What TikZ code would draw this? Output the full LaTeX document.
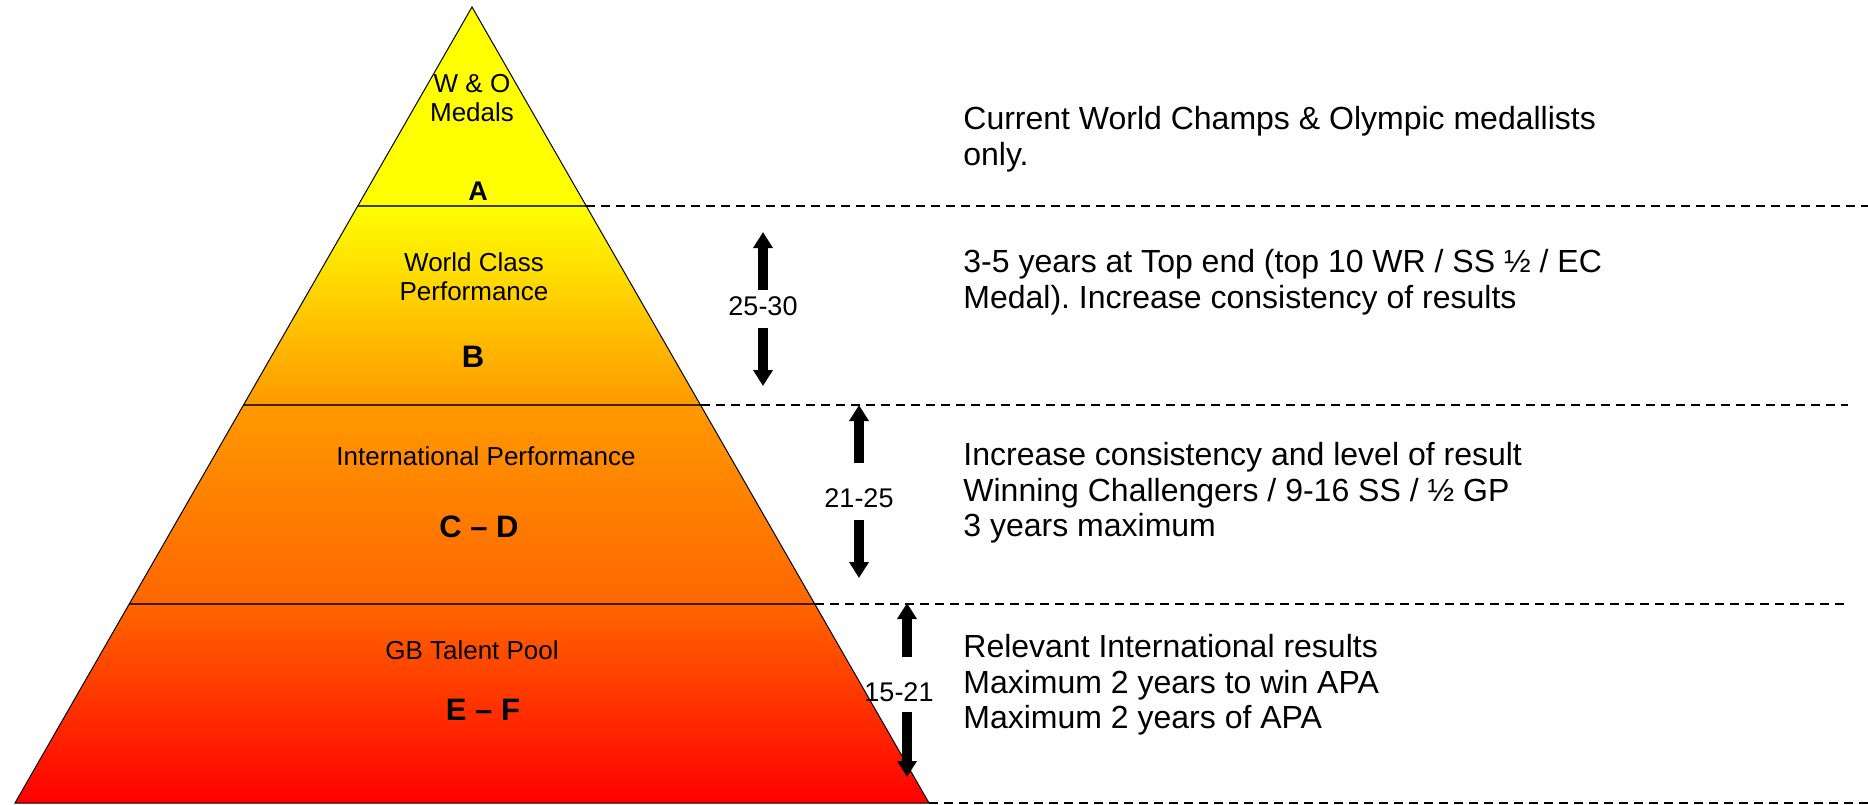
\documentclass[tikz,border=0pt]{standalone}
\usepackage{fontspec}
\setmainfont{Liberation Sans}
\usetikzlibrary{arrows.meta,calc}

\definecolor{lvlA}{RGB}{255,255,0}
\definecolor{lvlB}{RGB}{255,153,0}
\definecolor{lvlC}{RGB}{255,102,0}
\definecolor{lvlD}{RGB}{255,0,0}

\tikzset{
  tier/.style={font=\fontsize{13}{14.5}\selectfont, align=center, inner sep=0pt},
  grade/.style={font=\fontsize{15.5}{17}\selectfont\bfseries, inner sep=0pt},
  age/.style={font=\fontsize{13.5}{15}\selectfont, inner sep=0pt},
  note/.style={font=\fontsize{16}{17.75}\selectfont\frenchspacing, align=left, inner sep=0pt, anchor=north west},
  agearrow/.style={line width=5.2pt, -{Triangle[width=9.4pt,length=8pt]}},
  divider/.style={black, opacity=0.75, line width=1pt},
  guide/.style={dash pattern=on 4.5pt off 3pt, line width=0.75pt},
}

\begin{document}
\begin{tikzpicture}[x=0.5pt,y=-0.5pt]
\useasboundingbox (0,0) rectangle (1868,804);

% pyramid corners and band edges
\coordinate (apex) at (472,7);
\coordinate (bl) at (15,803);
\coordinate (br) at (929,803);
\foreach \n/\t in {1/0.25,2/0.5,3/0.75} {
  \coordinate (l\n) at ($(apex)!\t!(bl)$);
  \coordinate (r\n) at ($(apex)!\t!(br)$);
}

% bands
\fill[lvlA] (apex) -- (l1) -- (r1) -- cycle;
\shade[top color=lvlA, bottom color=lvlB] (l1) -- (l2) -- (r2) -- (r1) -- cycle;
\shade[top color=lvlB, bottom color=lvlC] (l2) -- (l3) -- (r3) -- (r2) -- cycle;
\shade[top color=lvlC, bottom color=lvlD] (l3) -- (bl) -- (br) -- (r3) -- cycle;
\draw[line width=0.5pt] (apex) -- (bl) -- (br) -- cycle;
\foreach \n in {1,2,3}
  \draw[divider] (l\n) -- (r\n);

% dashed guides to the right
\coordinate (g1) at (1868,206);
\coordinate (g2) at (1848,405);
\coordinate (g3) at (1844,604);
\coordinate (g4) at (1868,802);
\draw[guide] (r1) -- (r1 -| g1);
\draw[guide] (r2) -- (r2 -| g2);
\draw[guide] (r3) -- (r3 -| g3);
\draw[guide] (br) -- (br -| g4);

% pyramid labels
\node[tier] (wo) at (472,98) {W \& O\\Medals};
\node[grade, font=\fontsize{13.5}{15}\selectfont\bfseries] (gA) at (478,191) {A};
\node[tier] (wc) at (474,277) {World Class\\Performance};
\node[grade] (gB) at (473,357) {B};
\node[tier] (ip) at (486,456) {International Performance};
\node[grade] (gC) at (479,527) {C -- D};
\node[tier] (tp) at (472,650) {GB Talent Pool};
\node[grade] (gE) at (483,710) {E -- F};

% age ranges
\node[age] (age1) at (763,306) {25-30};
\coordinate (age1up) at (763,232);
\coordinate (age1dn) at (763,386);
\draw[agearrow] ([yshift=3pt]age1.north) -- (age1up);
\draw[agearrow] ([yshift=-6pt]age1.south) -- (age1dn);

\node[age] (age2) at (859,498) {21-25};
\coordinate (age2up) at (859,405);
\coordinate (age2dn) at (859,578);
\draw[agearrow] ([yshift=12.5pt]age2.north) -- (age2up);
\draw[agearrow] ([yshift=-6pt]age2.south) -- (age2dn);

\node[age] (age3) at (899,692) {15-21};
\coordinate (age3up) at (907,603);
\coordinate (age3dn) at (907,777);
\draw[agearrow] ([xshift=4pt,yshift=12.5pt]age3.north) -- (age3up);
\draw[agearrow] ([xshift=4pt,yshift=-5pt]age3.south) -- (age3dn);

% criteria
\node[note] (crA) at (963,106) {Current World Champs \& Olympic medallists\\only.};
\node[note] (crB) at (963,249) {3-5 years at Top end (top 10 WR / SS ½ / EC\\Medal). Increase consistency of results};
\node[note] (crC) at (963,442) {Increase consistency and level of result\\Winning Challengers / 9-16 SS / ½ GP\\3 years maximum};
\node[note] (crE) at (963,634) {Relevant International results\\Maximum 2 years to win APA\\Maximum 2 years of APA};
\end{tikzpicture}
\end{document}
